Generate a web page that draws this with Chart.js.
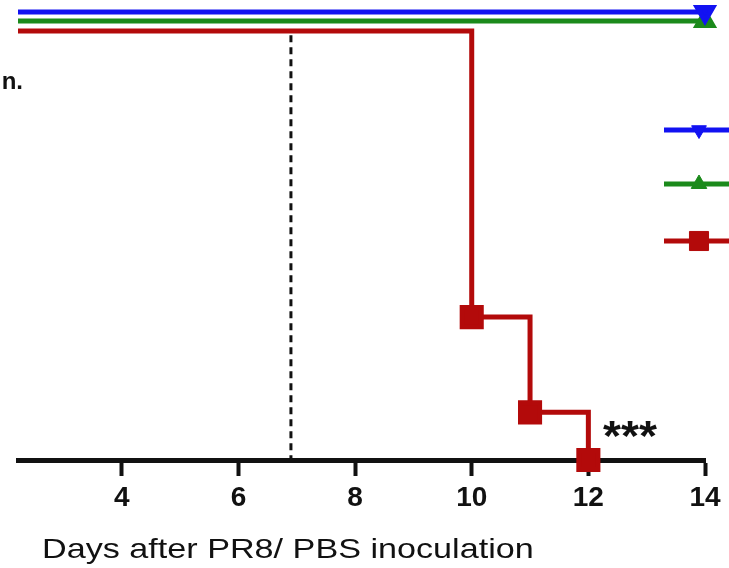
<!DOCTYPE html>
<html lang="en">
  <head>
    <title>Survival after PR8 inoculation</title>
    <meta charset="UTF-8" />
    <style>
      body { margin: 0; background: #fff; }
      .wrap { width: 729px; height: 568px; position: relative; }
    </style>
  </head>
  <body>
    <div class="wrap">
      <canvas id="survChart"></canvas>
    </div>
    <script src="https://cdn.jsdelivr.net/npm/chart.js@4.4.0/dist/chart.umd.min.js"></script>
    <script>
      // data
      var xMin = 2.22;
      var xMax = 14;
      var xTicks = [4, 6, 8, 10, 12, 14];
      var groupNames = ["PBS", "PR8 + treatment", "PR8"];
      var blueDays = [xMin, 14];
      var blueSurv = [100, 100];
      var greenDays = [xMin, 14];
      var greenSurv = [100, 100];
      var redDays = [xMin, 10, 11, 12];
      var redSurv = [100, 33.3, 11.1, 0];
      var markDay = 6.9;
      var sigLabel = "***";

      var BLUE = "#1212f2";
      var GREEN = "#1b8a1b";
      var RED = "#b30a0a";
      var FONT = "'Liberation Sans', Arial, sans-serif";

      function pts(xs, ys) {
        return xs.map(function (x, i) { return { x: x, y: ys[i] }; });
      }

      // the overlapping 100% lines are nudged up a bit, as in the figure
      var lineOffsets = [-19, -10, 0, 0];

      var offsetPlugin = {
        id: "offsetLines",
        beforeDatasetDraw: function (chart, args) {
          chart.ctx.save();
          chart.ctx.translate(0, lineOffsets[args.index] || 0);
        },
        afterDatasetDraw: function (chart) {
          chart.ctx.restore();
        }
      };

      // draws text stretched sideways
      function wideText(ctx, txt, x, y, sx) {
        ctx.save();
        ctx.translate(x, y);
        ctx.scale(sx, 1);
        ctx.fillText(txt, 0, 0);
        ctx.restore();
      }

      var extrasPlugin = {
        id: "extras",
        afterDraw: function (chart) {
          var ctx = chart.ctx;
          var area = chart.chartArea;
          var xs = chart.scales.x;
          var ys = chart.scales.y;

          // legend (its labels fall outside the crop)
          var legendY = [130, 184, 241];
          var styles = [
            { color: BLUE, pointStyle: "triangle", rotation: 180, radius: 8.5 },
            { color: GREEN, pointStyle: "triangle", rotation: 0, radius: 9 },
            { color: RED, pointStyle: "rect", rotation: 0, radius: 13.5 }
          ];
          styles.forEach(function (s, i) {
            ctx.save();
            ctx.strokeStyle = s.color;
            ctx.lineWidth = 5;
            ctx.beginPath();
            ctx.moveTo(area.right - 41, legendY[i]);
            ctx.lineTo(chart.width + 5, legendY[i]);
            ctx.stroke();
            ctx.fillStyle = s.color;
            ctx.lineWidth = 1;
            Chart.helpers.drawPoint(ctx, {
              pointStyle: s.pointStyle, radius: s.radius, rotation: s.rotation, borderWidth: 1
            }, area.right - 6, legendY[i]);
            ctx.restore();
          });

          ctx.save();
          ctx.fillStyle = "#111";
          ctx.textAlign = "left";
          ctx.textBaseline = "alphabetic";

          // significance stars
          ctx.font = "bold 42px " + FONT;
          wideText(ctx, sigLabel, xs.getPixelForValue(12.25), ys.getPixelForValue(2.4), 1.1);

          // cut-off end of the y title
          ctx.font = "bold 24px " + FONT;
          ctx.textAlign = "right";
          ctx.fillText("n.", 23, 89);

          // x axis title
          ctx.textAlign = "left";
          ctx.font = "28px " + FONT;
          wideText(ctx, "Days after PR8/ PBS inoculation", area.left + 24, 558, 1.22);
          ctx.restore();
        }
      };

      var ctx = document.getElementById("survChart");
      var survChart = new Chart(ctx, {
        type: "line",
        data: {
          datasets: [
            {
              label: groupNames[0],
              data: pts(blueDays, blueSurv),
              borderColor: BLUE,
              backgroundColor: BLUE,
              borderWidth: 5,
              pointStyle: "triangle",
              rotation: 180,
              pointRadius: [0, 9],
              clip: false
            },
            {
              label: groupNames[1],
              data: pts(greenDays, greenSurv),
              borderColor: GREEN,
              backgroundColor: GREEN,
              borderWidth: 5,
              pointStyle: "triangle",
              pointRadius: [0, 9],
              clip: false
            },
            {
              label: groupNames[2],
              data: pts(redDays, redSurv),
              borderColor: RED,
              backgroundColor: RED,
              borderWidth: 5,
              stepped: true,
              pointStyle: "rect",
              pointRadius: [0, 13.5, 13.5, 13.5],
              clip: false
            },
            {
              label: "day 7 mark",
              data: pts([markDay, markDay], [99, 0]),
              borderColor: "#111",
              borderWidth: 3,
              borderDash: [7, 5],
              pointRadius: 0,
              clip: false
            }
          ]
        },
        options: {
          responsive: true,
          maintainAspectRatio: false,
          animation: false,
          layout: { autoPadding: false, padding: { left: 18, right: 24, top: 0, bottom: 0 } },
          plugins: {
            legend: { display: false },
            tooltip: { enabled: false }
          },
          scales: {
            x: {
              type: "linear",
              min: xMin,
              max: xMax,
              afterBuildTicks: function (scale) {
                scale.ticks = xTicks.map(function (v) { return { value: v }; });
              },
              afterFit: function (scale) {
                scale.height = 108;
              },
              border: { display: true, color: "#111", width: 5 },
              grid: {
                display: true,
                drawOnChartArea: false,
                drawTicks: true,
                tickLength: 16,
                tickWidth: 4,
                tickColor: "#111"
              },
              ticks: {
                color: "#111",
                padding: 5,
                maxRotation: 0,
                font: { family: FONT, size: 28, weight: "bold" }
              }
            },
            y: {
              display: false,
              min: 0,
              max: 107.2
            }
          }
        },
        plugins: [offsetPlugin, extrasPlugin]
      });
    </script>
  </body>
</html>
